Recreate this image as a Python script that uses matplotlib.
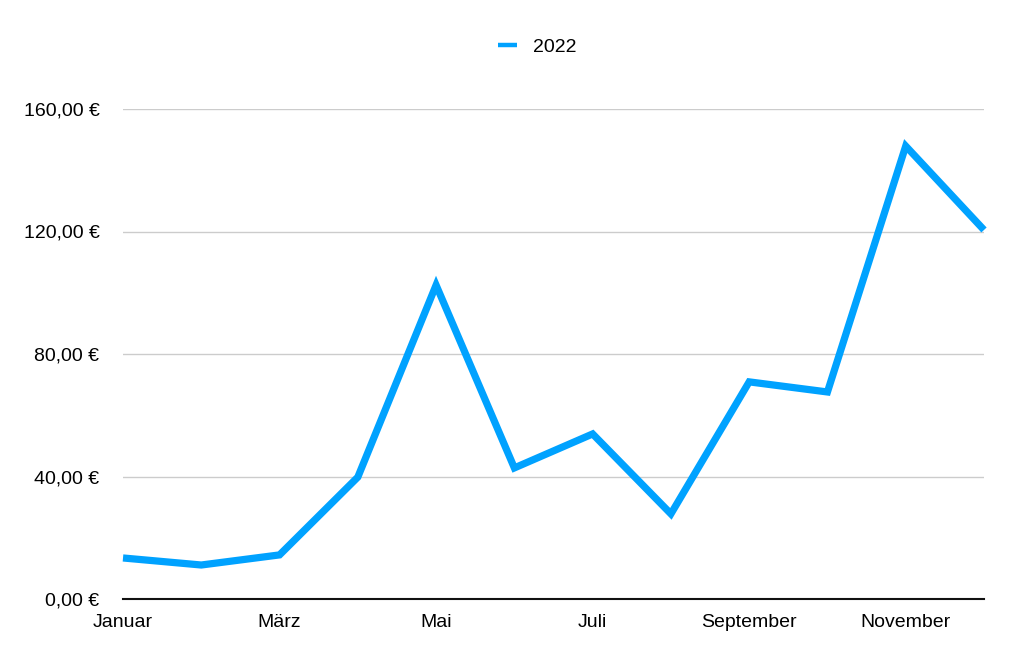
import matplotlib
matplotlib.use("Agg")
import matplotlib.pyplot as plt
from matplotlib.lines import Line2D
from matplotlib.ticker import FuncFormatter

monate = ["Januar", "Februar", "März", "April", "Mai", "Juni", "Juli",
          "August", "September", "Oktober", "November", "Dezember"]
werte_2022 = [13.4, 11.1, 14.4, 39.8, 102.5, 42.8, 53.9, 27.8, 70.9, 67.6, 147.9, 120.5]
y_ticks = [0, 40, 80, 120, 160]

plt.rcParams['font.family'] = ['Liberation Sans', 'DejaVu Sans']
blau = "#00A2FF"

fig = plt.figure(figsize=(10.24, 6.64), dpi=100)
ax = fig.add_axes([123/1024, 1-599/664, (984-123)/1024, (599-109)/664])

x = list(range(len(monate)))
ax.plot(x, werte_2022, color=blau, lw=5.2, solid_joinstyle="miter",
        solid_capstyle="butt", label="2022", clip_on=False, zorder=3)

ax.set_xlim(0, len(monate) - 1)
ax.set_ylim(0, 160)
ax.set_yticks(y_ticks)
ax.yaxis.set_major_formatter(FuncFormatter(lambda v, p: f"{v:.2f} €".replace(".", ",")))
ax.set_xticks(x[::2])
ax.set_xticklabels(monate[::2])

ax.grid(axis="y", color="#cccccc", lw=1)
ax.set_axisbelow(True)
for s in ["left", "right", "top"]:
    ax.spines[s].set_visible(False)
ax.spines["bottom"].set_color("#111111")
ax.spines["bottom"].set_linewidth(1.5)
ax.spines["bottom"].set_zorder(4)

ax.tick_params(axis="y", length=0, pad=17, labelsize=14)
ax.tick_params(axis="x", length=0, pad=11, labelsize=14)

handle = Line2D([], [], color=blau, lw=3.2, solid_capstyle="butt")
fig.legend([handle], ["2022"], loc="center", bbox_to_anchor=(537/1024, 1-47/664),
           frameon=False, fontsize=14, handlelength=1.0, handletextpad=0.8)

fig.savefig("out.png", dpi=100)
